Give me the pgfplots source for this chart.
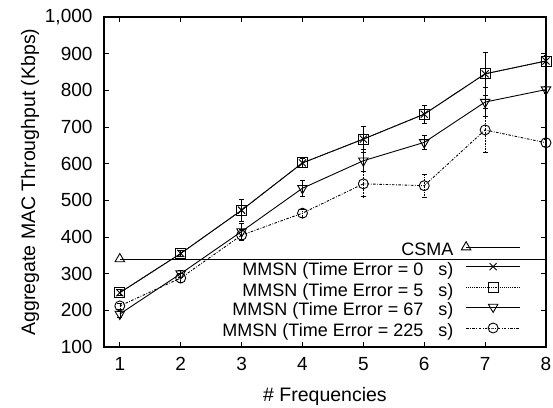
\documentclass[border=0pt]{standalone}
\usepackage{pgfplots}
\pgfplotsset{compat=1.18}
\usepackage{fontspec}
\setmainfont{Liberation Sans}
\begin{document}
\begin{tikzpicture}
\begin{axis}[
  scale only axis,
  width=442pt, height=330pt,
  xmin=0.74, xmax=8, ymin=100, ymax=1000,
  xtick={1,...,8}, ytick={100,200,...,1000},
  tick align=inside,
  major tick length=5pt,
  axis line style={line width=1.3pt},
  every tick/.style={black, line width=0.8pt},
  font=\fontsize{19}{22}\selectfont,
  tick label style={font=\fontsize{19}{22}\selectfont},
  /pgf/number format/assume math mode=true,
  /pgf/number format/1000 sep={,},
  xticklabel style={yshift=-7pt},
  yticklabel style={xshift=-8pt},
  xlabel={\# Frequencies},
  ylabel={Aggregate MAC Throughput (Kbps)},
  label style={font=\fontsize{19.5}{22}\selectfont},
  xlabel style={yshift=-10pt},
  ylabel style={yshift=-1pt},
  legend style={draw=none, fill=none, inner sep=0pt, at={(0.943,0.018)}, anchor=south east,
    font=\fontsize{18}{21}\selectfont, row sep=3.2pt, column sep=8pt,
    nodes={inner sep=0pt, text height=12pt, text depth=4pt}},
  legend cell align=right,
  legend plot pos=right,
  legend image code/.code={
    \draw[mark repeat=2, mark phase=2, #1] plot coordinates {(0cm,0.17cm) (0.95cm,0.17cm) (1.9cm,0.17cm)};},
  every axis plot/.append style={black, line width=0.9pt},
  error bars/error bar style={line width=0.6pt},
  error bars/error mark options={rotate=90, mark size=2.5pt, line width=0.6pt},
]
\addplot[mark=triangle, mark size=5.5pt, mark indices={1}, mark options={solid}]
  coordinates {(1,340) (8,340)};
\addlegendentry{CSMA}
\addplot[mark=x, mark size=5pt, mark options={solid},
  error bars/.cd, y dir=both, y explicit]
  coordinates {(1,248) +- (0,8) (2,355) +- (0,8) (3,473) +- (0,30) (4,602) +- (0,12)
    (5,667) +- (0,35) (6,735) +- (0,25) (7,845) +- (0,58) (8,880) +- (0,15)};
\addlegendentry{MMSN (Time Error = 0~~~s)}
\addplot[densely dotted, mark=square, mark size=5pt, mark options={solid}]
  coordinates {(1,248) (2,355) (3,473) (4,602) (5,667) (6,735) (7,845) (8,880)};
\addlegendentry{MMSN (Time Error = 5~~~s)}
\addplot[mark=triangle, mark size=5.5pt, mark options={solid, rotate=180},
  error bars/.cd, y dir=both, y explicit]
  coordinates {(1,190) +- (0,8) (2,300) +- (0,10) (3,415) +- (0,22) (4,533) +- (0,22)
    (5,608) +- (0,30) (6,658) +- (0,20) (7,768) +- (0,40) (8,802) +- (0,10)};
\addlegendentry{MMSN (Time Error = 67~~~s)}
\addplot[dash pattern=on 2.5pt off 1.5pt on 0.8pt off 1.5pt, mark=o, mark size=5pt, mark options={solid},
  error bars/.cd, y dir=both, y explicit, error bar style={densely dotted}]
  coordinates {(1,212) +- (0,8) (2,288) +- (0,12) (3,405) +- (0,15) (4,465) +- (0,10)
    (5,545) +- (0,35) (6,540) +- (0,32) (7,692) +- (0,60) (8,657) +- (0,10)};
\addlegendentry{MMSN (Time Error = 225~~~s)}
\end{axis}
\pgfresetboundingbox
\path[use as bounding box] ([shift={(-104pt,-61pt)}]current axis.south west) rectangle ([shift={(7pt,17pt)}]current axis.north east);
\end{tikzpicture}
\end{document}
